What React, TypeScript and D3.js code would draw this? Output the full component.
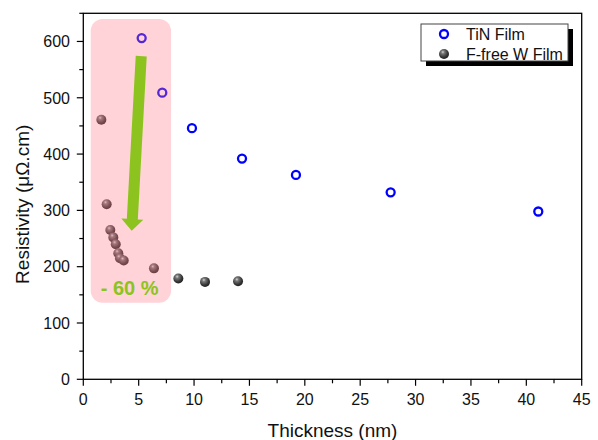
import React from "react";
import * as d3 from "d3";

const tinThickness = [5.27, 7.13, 9.81, 14.33, 19.2, 27.75, 41.08];
const tinResistivity = [606, 509, 446, 392, 363, 332, 298];

const wThickness = [1.63, 2.11, 2.44, 2.71, 2.93, 3.16, 3.31, 3.65, 6.38, 8.58, 10.99, 13.97];
const wResistivity = [461, 311, 265, 252, 240, 224, 215, 211, 197, 179, 173, 174];

const xTicks = [0, 5, 10, 15, 20, 25, 30, 35, 40, 45];
const yTicks = [0, 100, 200, 300, 400, 500, 600];
const legendLabels = ["TiN Film", "F-free W Film"];

// annotation in data units
const boxX = [0.67, 7.92];
const boxY = [640, 136];
const arrowFrom = [5.23, 574];
const arrowTo = [4.37, 264];
const pctLabel = "- 60 %";
const pctPos = [1.57, 150];

const W = 598, H = 440;
const left = 83.3, right = 581.7, top = 13.3, bottom = 379.3;
const FONT = "Arial, 'Liberation Sans', sans-serif";

export default function App() {
  const x = d3.scaleLinear().domain([0, 45]).range([left, right]);
  const y = d3.scaleLinear().domain([0, 650]).range([bottom, top]);
  const xMinor = d3.range(0, 45.01, 2.5);
  const yMinor = d3.range(0, 650.01, 50);

  // arrow polygon
  const x0 = x(arrowFrom[0]), y0 = y(arrowFrom[1]);
  const x1 = x(arrowTo[0]), y1 = y(arrowTo[1]);
  const dx = x1 - x0, dy = y1 - y0;
  const len = Math.hypot(dx, dy);
  const ux = dx / len, uy = dy / len;
  const px = -uy, py = ux;
  const sw = 5.5, hw = 11, hl = 11.5;
  const bx = x1 - ux * hl, by = y1 - uy * hl;
  const arrowPts = [
    [x0 + px * sw, y0 + py * sw],
    [bx + px * sw, by + py * sw],
    [bx + px * hw, by + py * hw],
    [x1, y1],
    [bx - px * hw, by - py * hw],
    [bx - px * sw, by - py * sw],
    [x0 - px * sw, y0 - py * sw],
  ];

  const sphere = (cx: number, cy: number, key: string | number) => (
    <circle key={key} cx={cx} cy={cy} r={5} fill="url(#sphereGrad)" />
  );

  return (
    <svg width={W} height={H} style={{ position: "absolute", left: 0, top: 0, background: "#fff" }} fontFamily={FONT}>
      <defs>
        <radialGradient id="sphereGrad" cx="0.4" cy="0.35" r="0.65" fx="0.38" fy="0.3">
          <stop offset="0" stopColor="#d8d8d8" />
          <stop offset="0.25" stopColor="#7a7a7a" />
          <stop offset="0.7" stopColor="#3a3a3a" />
          <stop offset="1" stopColor="#202020" />
        </radialGradient>
      </defs>
      <rect x={0} y={0} width={W} height={H} fill="#fff" />

      {/* data */}
      {wThickness.map((t, i) => sphere(x(t), y(wResistivity[i]), "w" + i))}
      {tinThickness.map((t, i) => (
        <circle key={"t" + i} cx={x(t)} cy={y(tinResistivity[i])} r={4} fill="none" stroke="#0000ff" strokeWidth={2.3} />
      ))}

      {/* pink overlay */}
      <rect
        x={x(boxX[0])}
        y={y(boxY[0])}
        width={x(boxX[1]) - x(boxX[0])}
        height={y(boxY[1]) - y(boxY[0])}
        rx={12}
        ry={12}
        fill="rgb(255,120,135)"
        fillOpacity={0.33}
      />

      {/* arrow */}
      <polygon points={arrowPts.map((p) => p.join(",")).join(" ")} fill="#8cc31e" />
      <text x={x(pctPos[0])} y={y(pctPos[1])} fontSize={20} fontWeight="bold" fill="#8cc31e">{pctLabel}</text>

      {/* frame */}
      <rect x={left} y={top} width={right - left} height={bottom - top} fill="none" stroke="#000" strokeWidth={1.3} />

      {/* x ticks */}
      {xMinor.map((v) => (
        <line key={"xm" + v} x1={x(v)} x2={x(v)} y1={bottom} y2={bottom + (v % 5 === 0 ? 6.5 : 4)} stroke="#000" strokeWidth={1.2} />
      ))}
      {xTicks.map((v) => (
        <text key={"xl" + v} x={x(v)} y={405} fontSize={16} textAnchor="middle" fill="#111">{v}</text>
      ))}
      {/* y ticks */}
      {yMinor.map((v) => (
        <line key={"ym" + v} x1={left} x2={left - (v % 100 === 0 ? 6.5 : 4)} y1={y(v)} y2={y(v)} stroke="#000" strokeWidth={1.2} />
      ))}
      {yTicks.map((v) => (
        <text key={"yl" + v} x={70} y={y(v) + 5.8} fontSize={16} textAnchor="end" fill="#111">{v}</text>
      ))}

      {/* axis titles */}
      <text x={(left + right) / 2} y={437} fontSize={19} textAnchor="middle" fill="#111">Thickness (nm)</text>
      <text transform={`translate(29,${(top + bottom) / 2 + 8}) rotate(-90)`} fontSize={19} textAnchor="middle" fill="#111">Resistivity (μΩ.cm)</text>

      {/* legend */}
      <rect x={426} y={29} width={147} height={37} fill="#000" />
      <rect x={421} y={24} width={147} height={37} fill="#fff" stroke="#444" strokeWidth={1} />
      <circle cx={444} cy={34} r={4} fill="none" stroke="#0000ff" strokeWidth={2.3} />
      {sphere(444, 54, "leg")}
      <text x={466} y={40} fontSize={16} fill="#111">{legendLabels[0]}</text>
      <text x={466} y={59.5} fontSize={16} fill="#111">{legendLabels[1]}</text>
    </svg>
  );
}
